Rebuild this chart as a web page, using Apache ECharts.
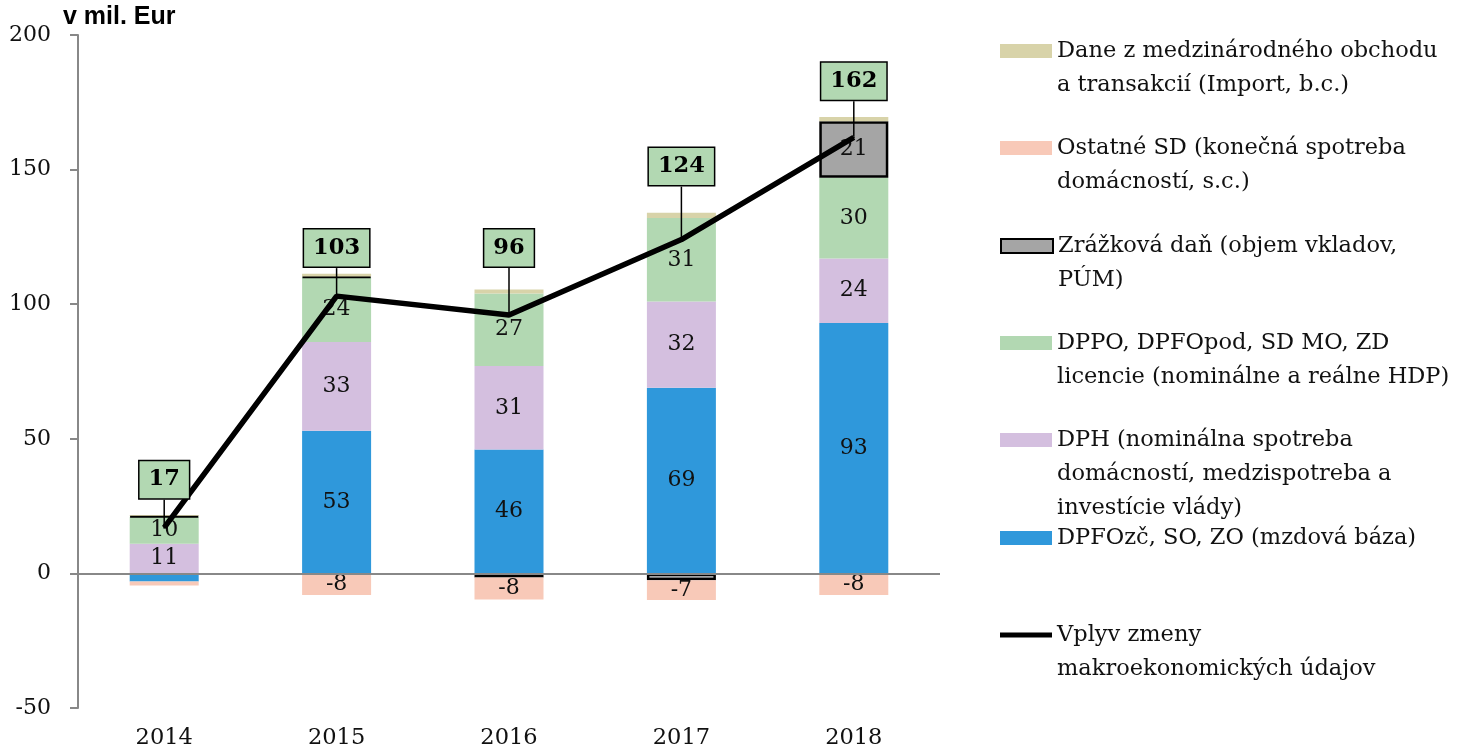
<!DOCTYPE html>
<html>
<head>
<meta charset="utf-8">
<script src="https://cdn.jsdelivr.net/npm/echarts@6/dist/echarts.min.js"></script>
<style>
html, body { margin: 0; padding: 0; background: #fff; }
#chart { width: 1466px; height: 755px; }
</style>
</head>
<body>
<div id="chart"></div>
<script>
// roky
var years = ['2014', '2015', '2016', '2017', '2018'];
// jednotlivé príspevky (mil. Eur)
var dpfo = [-3, 53, 46, 69, 93];
var dph = [11, 33, 31, 32, 24];
var dppo = [10, 24, 27, 31, 30];
var zrazkova = [0.3, 0.3, -1.5, -2.5, 21];
var ostatne = [-1.5, -8, -8.2, -7.4, -8];
var dane = [0.3, 1, 1.5, 2, 1.5];
// celkový vplyv
var vplyv = [17, 103, 96, 124, 162];

var names = [
	'Dane z medzinárodného obchodu a transakcií (Import, b.c.)',
	'Ostatné SD (konečná spotreba domácností, s.c.)',
	'Zrážková daň (objem vkladov, PÚM)',
	'DPPO, DPFOpod, SD MO, ZD licencie (nominálne a reálne HDP)',
	'DPH (nominálna spotreba domácností, medzispotreba a investície vlády)',
	'DPFOzč, SO, ZO (mzdová báza)',
	'Vplyv zmeny makroekonomických údajov'
];
var legendLines = [
	['Dane z medzinárodného obchodu', 'a transakcií (Import, b.c.)'],
	['Ostatné SD (konečná spotreba', 'domácností, s.c.)'],
	['Zrážková daň (objem vkladov,', 'PÚM)'],
	['DPPO, DPFOpod, SD MO, ZD', 'licencie (nominálne a reálne HDP)'],
	['DPH (nominálna spotreba', 'domácností, medzispotreba a', 'investície vlády)'],
	['DPFOzč, SO, ZO (mzdová báza)'],
	['Vplyv zmeny', 'makroekonomických údajov']
];

var serif = 'DejaVu Serif';
var legendTop = [0, 97, 195, 292, 355, 521, 584];
var boxDy = [-48, -48, -67, -73, -56];

var myChart = echarts.init(document.getElementById('chart'));

function barLabel() {
	return {
		show: true,
		position: 'inside',
		fontFamily: serif,
		fontSize: 22,
		color: '#111',
		formatter: function(p) {
			return Math.abs(p.value) >= 5 ? Math.round(p.value) : '';
		}
	};
}

function bar(name, data, color, extra) {
	var s = {
		name: name,
		type: 'bar',
		stack: 'a',
		barWidth: 69,
		data: data,
		itemStyle: { color: color },
		label: barLabel()
	};
	if(extra) {
		for(var k in extra) s[k] = extra[k];
	}
	return s;
}

var legends = [];
for(var i = 0; i < names.length; i++) {
	(function(i) {
		var lines = legendLines[i].slice();
		// prázdne riadky navrch, aby bola ikonka pri prvom riadku
		for(var j = 1; j < legendLines[i].length; j++) lines.unshift('');
		var isLine = i == 6;
		legends.push({
			data: [{ name: names[i], icon: 'rect' }],
			left: 1000,
			top: legendTop[i],
			orient: 'vertical',
			padding: 0,
			itemWidth: 52,
			itemHeight: isLine ? 5 : 14,
			selectedMode: false,
			textStyle: { fontFamily: serif, fontSize: 22.5, lineHeight: 34, color: '#111' },
			formatter: function() { return lines.join('\n'); }
		});
	})(i);
}

var option = {
	backgroundColor: '#fff',
	animation: false,
	title: {
		text: 'v mil. Eur',
		left: 63,
		top: 5,
		padding: 0,
		textStyle: { fontFamily: 'Liberation Sans', fontWeight: 'bold', fontSize: 25, color: '#000' }
	},
	legend: legends,
	grid: { left: 78, right: 526, top: 35, bottom: 47 },
	xAxis: {
		type: 'category',
		data: years,
		axisLine: { show: false },
		axisTick: { show: false },
		axisLabel: { fontFamily: serif, fontSize: 22.5, color: '#111', margin: 19 }
	},
	yAxis: {
		type: 'value',
		min: -50,
		max: 200,
		interval: 50,
		splitLine: { show: false },
		axisLine: { show: true, lineStyle: { color: '#888', width: 2 } },
		axisTick: { show: true, length: 8, lineStyle: { color: '#888', width: 2 } },
		axisLabel: { fontFamily: serif, fontSize: 22, color: '#111', margin: 27 }
	},
	series: [
		bar(names[5], dpfo, '#2f98db', {
			markLine: {
				silent: true,
				symbol: 'none',
				label: { show: false },
				lineStyle: { color: '#888', width: 2, type: 'solid' },
				data: [{ yAxis: 0 }]
			}
		}),
		bar(names[4], dph, '#d4bfdf'),
		bar(names[3], dppo, '#b2d8b2'),
		bar(names[2], zrazkova, '#a5a5a5', {
			itemStyle: { color: '#a5a5a5', borderColor: '#000', borderWidth: 2.5 }
		}),
		bar(names[1], ostatne, '#f8c9b8'),
		bar(names[0], dane, '#d8d3a9'),
		{
			name: names[6],
			type: 'line',
			data: vplyv,
			z: 10,
			symbol: 'circle',
			symbolSize: 2,
			showSymbol: true,
			lineStyle: { color: '#000', width: 5.5 },
			itemStyle: { color: '#000' },
			label: {
				show: true,
				position: 'inside',
				fontFamily: serif,
				fontWeight: 'bold',
				fontSize: 22.5,
				lineHeight: 24,
				color: '#000',
				backgroundColor: '#b2d8b2',
				borderColor: '#000',
				borderWidth: 1.5,
				padding: [7, 9, 6, 9]
			},
			labelLayout: function(p) {
				return { dy: boxDy[p.dataIndex] };
			},
			labelLine: { show: true, lineStyle: { color: '#000', width: 1.5 } }
		}
	]
};

myChart.setOption(option);
</script>
</body>
</html>
